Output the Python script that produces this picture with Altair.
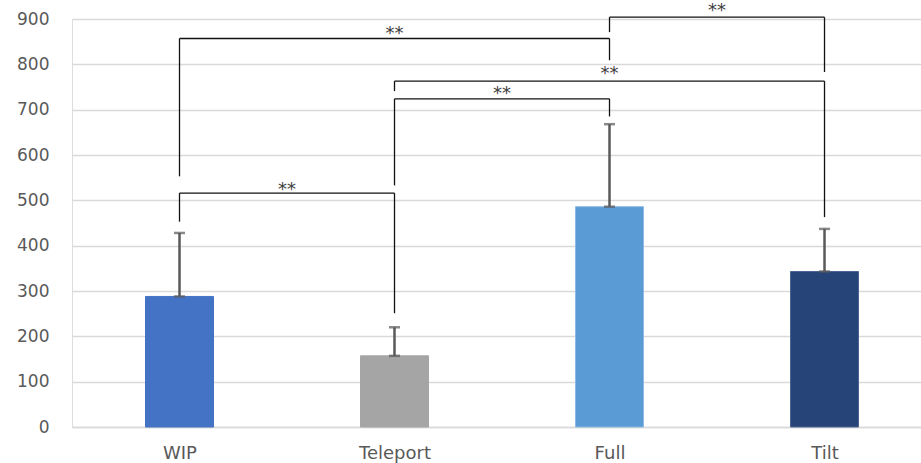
import altair as alt
import pandas as pd

# Mean values per locomotion technique with the upper error extent
categories = ["WIP", "Teleport", "Full", "Tilt"]
means = [288, 157, 486, 343]
errors = [140, 63, 182, 94]
bar_colors = ["#4472C4", "#A5A5A5", "#5B9BD5", "#264478"]
bar_edges = ["#4472C4", "#A5A5A5", "#8DB9E4", "#4A6594"]

# Significance brackets between pairs of techniques
bracket_left = ["WIP", "WIP", "Teleport", "Teleport", "Full"]
bracket_right = ["Teleport", "Full", "Full", "Tilt", "Tilt"]
bracket_top = [516, 857, 724, 763, 904]
left_leg_end = [453, 553, 533, 741, 871]
right_leg_end = [251, 809, 685, 463, 783]
label_level = [527, 871, 738, 783, 922]
label_text = ["**", "**", "**", "**", "**"]

idx = {c: i for i, c in enumerate(categories)}

bars = pd.DataFrame({
    "cat": categories,
    "pos": list(range(len(categories))),
    "mean": means,
    "upper": [m + e for m, e in zip(means, errors)],
    "color": bar_colors,
    "edge": bar_edges,
})

h_rows = []
v_rows = []
t_rows = []
for l, r, top, le, re, ly, t in zip(bracket_left, bracket_right, bracket_top,
                                    left_leg_end, right_leg_end, label_level, label_text):
    h_rows.append({"x": idx[l], "x2": idx[r], "y": top})
    v_rows.append({"x": idx[l], "y": top, "y2": le})
    v_rows.append({"x": idx[r], "y": top, "y2": re})
    t_rows.append({"x": (idx[l] + idx[r]) / 2, "y": ly, "text": t})
hlines = pd.DataFrame(h_rows)
vlines = pd.DataFrame(v_rows)
labels = pd.DataFrame(t_rows)

label_map = "[" + ",".join(f"'{c}'" for c in categories) + "][datum.value]"

xscale = alt.Scale(domain=[-0.5, 3.4488], nice=False, zero=False, padding=0)
yscale = alt.Scale(domain=[0, 900], nice=False, padding=0)

x_axis = alt.Axis(values=[0, 1, 2, 3], labelExpr=label_map, title=None, grid=False,
                  ticks=False, labelPadding=17, labelFontSize=18, labelColor="#595959",
                  labelFont="DejaVu Sans", domainColor="#D9D9D9", domainWidth=1.5)
y_axis = alt.Axis(values=list(range(0, 1000, 100)), title=None, ticks=False, domain=False,
                  labelPadding=23, labelFontSize=17, labelColor="#595959",
                  labelFont="DejaVu Sans", gridColor="#D9D9D9", gridWidth=1.5)

base = alt.Chart(bars)

bar_layer = base.mark_bar(width=68, strokeWidth=1).encode(
    x=alt.X("pos:Q", scale=xscale, axis=x_axis),
    y=alt.Y("mean:Q", scale=yscale, axis=y_axis),
    color=alt.Color("color:N", scale=None),
    stroke=alt.Stroke("edge:N", scale=None),
)

err_line = base.mark_rule(color="#595959", strokeWidth=2.5).encode(
    x="pos:Q", y="mean:Q", y2="upper:Q"
)
err_cap_top = base.mark_tick(color="#595959", orient="horizontal", size=11, thickness=2.5).encode(
    x="pos:Q", y="upper:Q"
)
err_cap_bottom = base.mark_tick(color="#595959", orient="horizontal", size=11, thickness=2.5).encode(
    x="pos:Q", y="mean:Q"
)

h_layer = alt.Chart(hlines).mark_rule(color="#111111", strokeWidth=1.3).encode(
    x="x:Q", x2="x2:Q", y="y:Q"
)
v_layer = alt.Chart(vlines).mark_rule(color="#111111", strokeWidth=1.3).encode(
    x="x:Q", y="y:Q", y2="y2:Q"
)
t_layer = alt.Chart(labels).mark_text(
    font="DejaVu Sans", fontSize=18, color="#404040", baseline="alphabetic", dy=7
).encode(x="x:Q", y="y:Q", text="text:N")

chart = alt.layer(
    bar_layer, err_line, err_cap_top, err_cap_bottom, h_layer, v_layer, t_layer
).properties(
    width=849, height=408,
    autosize=alt.AutoSizeParams(type="none"),
    padding={"left": 72, "top": 19, "right": 0, "bottom": 36},
).configure_view(stroke=None).configure(background="white")

chart.save("out.html", embed_options={"renderer": "svg", "actions": False})
